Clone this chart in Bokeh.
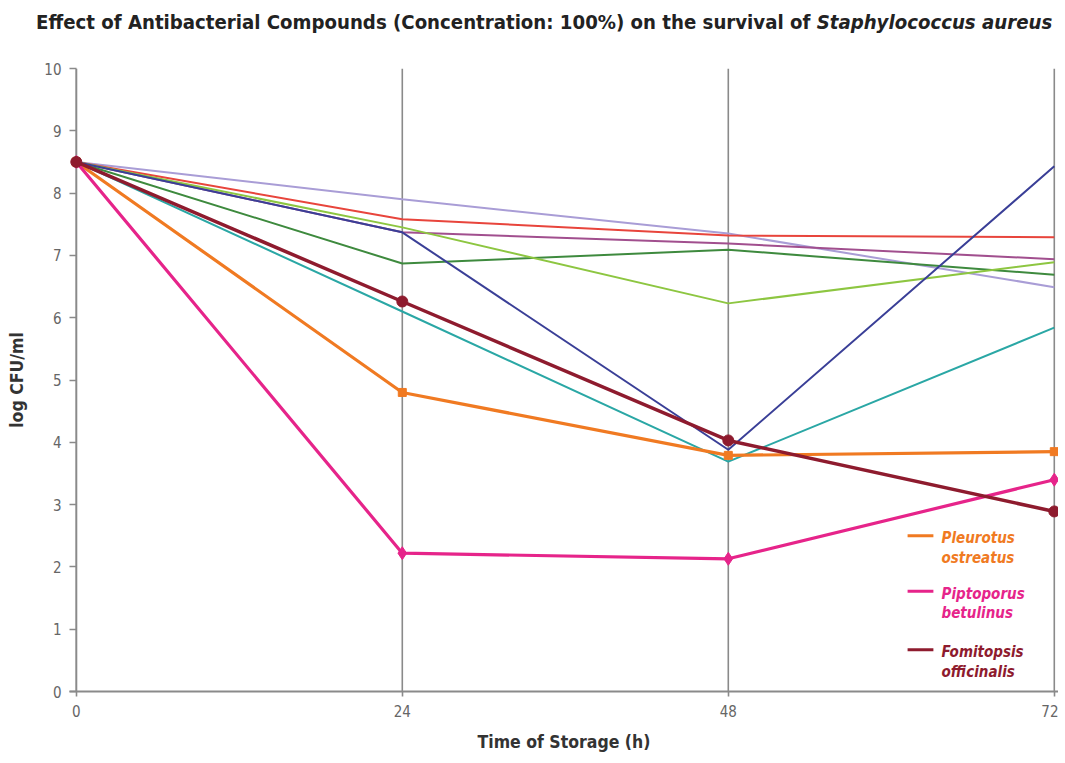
from bokeh.plotting import figure
from bokeh.models import Range1d, FixedTicker, Label, Div
from bokeh.layouts import column
from bokeh.embed import file_html
from bokeh.resources import INLINE

hours = [0, 24, 48, 72]
pleurotus = [8.5, 4.80, 3.79, 3.85]
piptoporus = [8.5, 2.22, 2.13, 3.40]
fomitopsis = [8.5, 6.26, 4.03, 2.89]
blue = [8.5, 7.37, 3.88, 8.43]
teal = [8.5, 6.10, 3.69, 5.84]
lightgreen = [8.5, 7.45, 6.23, 6.89]
darkgreen = [8.5, 6.87, 7.09, 6.69]
red = [8.5, 7.58, 7.32, 7.29]
purple = [8.5, 7.37, 7.19, 6.94]
lavender = [8.5, 7.90, 7.35, 6.49]

y_ticks = [0, 1, 2, 3, 4, 5, 6, 7, 8, 9, 10]
x_ticks = [0, 24, 48, 72]
grid_x = [24, 48, 72]
y_min, y_max = 0, 10

legend_names = [("Pleurotus", "ostreatus"), ("Piptoporus", "betulinus"), ("Fomitopsis", "officinalis")]
legend_colors = ["#F07A22", "#E6248A", "#8E1B2E"]
legend_y = [2.50, 1.61, 0.67]

title_main = "Effect of Antibacterial Compounds (Concentration: 100%) on the survival of "
title_italic = "Staphylococcus aureus"

FONT = "DejaVu Sans Condensed, Liberation Sans Narrow, Roboto, sans-serif"
CSS_FONT = "'DejaVu Sans Condensed', 'Liberation Sans Narrow', Roboto, sans-serif"
GRID = "#8a8a8a"
W = 1058

# ---- title (mixed bold / bold italic) ----
title_html = (
    f'<div style="padding:10px 0 0 36px; white-space:nowrap; font-family:{CSS_FONT}; '
    f'font-size:20.2px; line-height:24px; font-weight:bold; color:#222222;">'
    f'{title_main}<i>{title_italic}</i></div>'
)
t = Div(text=title_html, width=W, height=48, margin=0)

# ---- main chart ----
p = figure(frame_width=989, frame_height=623, output_backend="svg", toolbar_location=None,
           x_range=Range1d(-0.5, 72.31), y_range=Range1d(y_min, y_max),
           min_border_left=69, min_border_right=0, min_border_top=20, min_border_bottom=66)
p.outline_line_color = None
p.background_fill_color = "white"
p.xgrid.visible = False
p.ygrid.visible = False

p.yaxis.ticker = FixedTicker(ticks=y_ticks)
p.xaxis.ticker = FixedTicker(ticks=x_ticks)
for ax in (p.xaxis, p.yaxis):
    ax.major_label_text_font = FONT
    ax.major_label_text_font_size = "15px"
    ax.major_label_text_color = "#666666"
    ax.minor_tick_line_color = None
    ax.axis_label_text_font = FONT
    ax.axis_label_text_font_style = "bold"
    ax.axis_label_text_font_size = "17.5px"
    ax.axis_label_text_color = "#333333"
    ax.major_tick_line_color = GRID
    ax.major_tick_line_width = 1.6

p.yaxis.axis_line_color = None
p.yaxis.major_tick_in = 7
p.yaxis.major_tick_out = 0
p.yaxis.major_label_standoff = 8
p.yaxis.axis_label = "log CFU/ml"
p.yaxis.axis_label_standoff = 14

p.xaxis.axis_line_color = GRID
p.xaxis.axis_line_width = 2
p.xaxis.major_tick_in = 0
p.xaxis.major_tick_out = 5
p.xaxis.major_label_standoff = 8
p.xaxis.axis_label = "Time of Storage (h)"
p.xaxis.axis_label_standoff = 12

# vertical grid lines and y axis line
p.segment(x0=grid_x, y0=[y_min] * len(grid_x), x1=grid_x, y1=[y_max] * len(grid_x),
          line_color=GRID, line_width=1.6)
p.segment(x0=[0], y0=[y_min], x1=[0], y1=[y_max], line_color=GRID, line_width=2)

# thin lines
thin = [(lavender, "#A99DD6"), (red, "#E8453C"), (purple, "#A14F8E"), (darkgreen, "#3E8A3E"),
        (lightgreen, "#8DC641"), (teal, "#2AA7A5"), (blue, "#3A3F97")]
for ys, c in thin:
    p.line(hours, ys, line_color=c, line_width=2)

# thick lines with markers
p.line(hours, pleurotus, line_color=legend_colors[0], line_width=3.2)
p.scatter(hours, pleurotus, marker="square", size=8, color=legend_colors[0])
p.line(hours, piptoporus, line_color=legend_colors[1], line_width=3.2)
p.scatter(hours, piptoporus, marker="diamond", size=13, color=legend_colors[1])
p.line(hours, fomitopsis, line_color=legend_colors[2], line_width=3.5)
p.scatter(hours, fomitopsis, marker="circle", size=11, color=legend_colors[2])

# legend
for (n1, n2), c, ly in zip(legend_names, legend_colors, legend_y):
    p.line([61.2, 63.1], [ly, ly], line_color=c, line_width=3)
    p.add_layout(Label(x=63.7, y=ly - 0.04, text=n1, text_color=c, text_font=FONT,
                       text_font_style="bold italic", text_font_size="15px", text_baseline="middle"))
    p.add_layout(Label(x=63.7, y=ly - 0.35, text=n2, text_color=c, text_font=FONT,
                       text_font_style="bold italic", text_font_size="15px", text_baseline="middle"))

layout = column(t, p)
open("out.html", "w").write(file_html(layout, INLINE))
